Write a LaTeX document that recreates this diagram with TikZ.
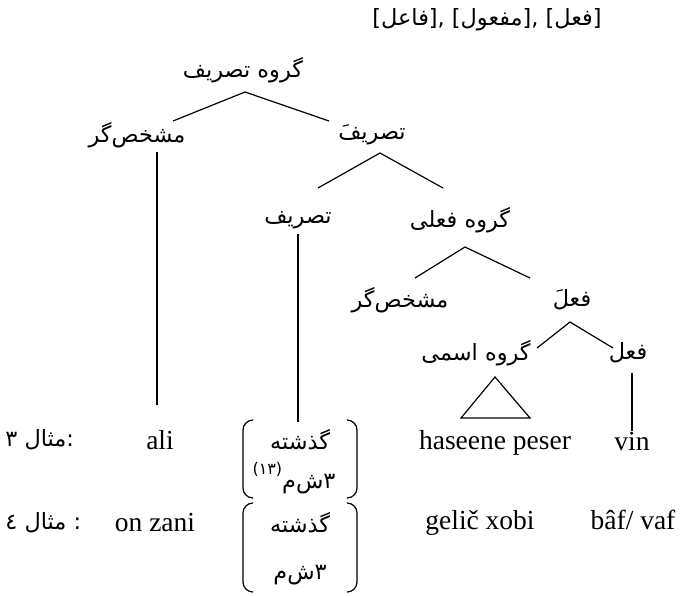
\documentclass[tikz,border=0pt]{standalone}
\usepackage{fontspec}
\setmainfont{Liberation Serif}
\newfontfamily\arabicfont[Script=Arabic]{DejaVu Sans}
\newfontfamily\plainsans{DejaVu Sans}
\TeXXeTstate=1
\usetikzlibrary{positioning}
% right-to-left text, kept apart from its neighbours
\newcommand{\faw}[1]{\hbox{\arabicfont\beginR #1\endR}}
% brackets, stops and digits, set left to right
\newcommand{\lat}[1]{\hbox{\plainsans #1}}

\tikzset{
  fa/.style={font=\arabicfont\fontsize{11.2}{13}\selectfont, inner sep=0pt},
  la/.style={font=\fontsize{13.75}{16}\selectfont, inner sep=0pt},
  branch/.style={line width=0.6pt},
  paren/.style={line width=0.6pt, rounded corners=5pt}
}

\begin{document}
\begin{tikzpicture}[x=0.5pt,y=-0.5pt]
\useasboundingbox (0,0) rectangle (684,595);
% labels of the tree
\node[fa] (top) at (487,20) {\lat{[}\faw{فاعل}\lat{], [}\faw{مفعول}\lat{], [}\faw{فعل}\lat{]}};
\node[fa] (gt)  at (243,70)  {\faw{گروه تصریف}};
\node[fa] (mg1) at (137,135) {\faw{مشخص‌گر}};
\node[fa] (ts1) at (372,135) {\faw{تصریفَ}};
\node[fa] (ts2) at (298,220) {\faw{تصریف}};
\node[fa] (gf)  at (460,220) {\faw{گروه فعلی}};
\node[fa] (mg2) at (400,300) {\faw{مشخص‌گر}};
\node[fa] (f1)  at (572,300) {\faw{فعلَ}};
\node[fa] (gi)  at (476,353) {\faw{گروه اسمی}};
\node[fa] (f2)  at (628,353) {\faw{فعل}};
% the two examples
\node[fa,anchor=west] (m3) at (5,440) {\lat{٣}\ \faw{مثال}\lat{:}};
\node[fa,anchor=west] (m4) at (5,523) {\lat{٤}\ \faw{مثال}\ \lat{:}};
\node[la] (ali) at (160,440) {ali};
\node[la] (onz) at (155,523) {on zani};
\node[fa] (gz1) at (300,440) {\faw{گذشته}};
\node[fa] (sm1) at (294,478) {\raisebox{1.1ex}{\fontsize{8}{9}\selectfont\lat{(١٣)}}\faw{ش‌م}\lat{٣}};
\node[fa] (gz2) at (300,523) {\faw{گذشته}};
\node[fa] (sm2) at (300,575) {\faw{ش‌م}\lat{٣}};
\node[la] (hp)  at (495,443) {haseene peser};
\node[la] (gx)  at (480,523) {geli\v{c} xobi};
\node[la] (vin) at (632,442) {vin};
\node[la] (bv)  at (633,520) {b\^{a}f/ vaf};
% branches
\draw[branch] ([shift={(36,-14)}]mg1.center) -- ([shift={(2,22)}]gt.center) -- ([shift={(-43,-14)}]ts1.center);
\draw[branch] ([shift={(20,-32)}]ts2.center) -- ([shift={(8,18)}]ts1.center) -- ([shift={(-17,-32)}]gf.center);
\draw[branch] ([shift={(15,-22)}]mg2.center) -- ([shift={(5,-53)}]mg2.center -| gf.center) -- ([shift={(-42,-22)}]f1.center);
\draw[branch] ([shift={(61,-5)}]gi.center) -- ([shift={(-2,22)}]f1.center) -- ([shift={(-15,-5)}]f2.center);
\draw[branch] ([shift={(20,17)}]mg1.center) -- ([shift={(20,270)}]mg1.center);
\draw[branch] ([shift={(0,14)}]ts2.center) -- ([shift={(0,202)}]ts2.center);
\draw[branch] ([shift={(4,20)}]f2.center) -- ([shift={(4,78)}]f2.center);
\draw[branch] ([shift={(19,24)}]gi.center) -- ([shift={(-15,65)}]gi.center) -- ([shift={(54,65)}]gi.center) -- cycle;
% brackets round the inflection
\draw[paren] (252,420) -- (243,420) -- (243,498) -- (252,498);
\draw[paren] (348,420) -- (357,420) -- (357,498) -- (348,498);
\draw[paren] (252,503) -- (243,503) -- (243,592) -- (252,592);
\draw[paren] (348,503) -- (357,503) -- (357,592) -- (348,592);
\end{tikzpicture}
\end{document}
